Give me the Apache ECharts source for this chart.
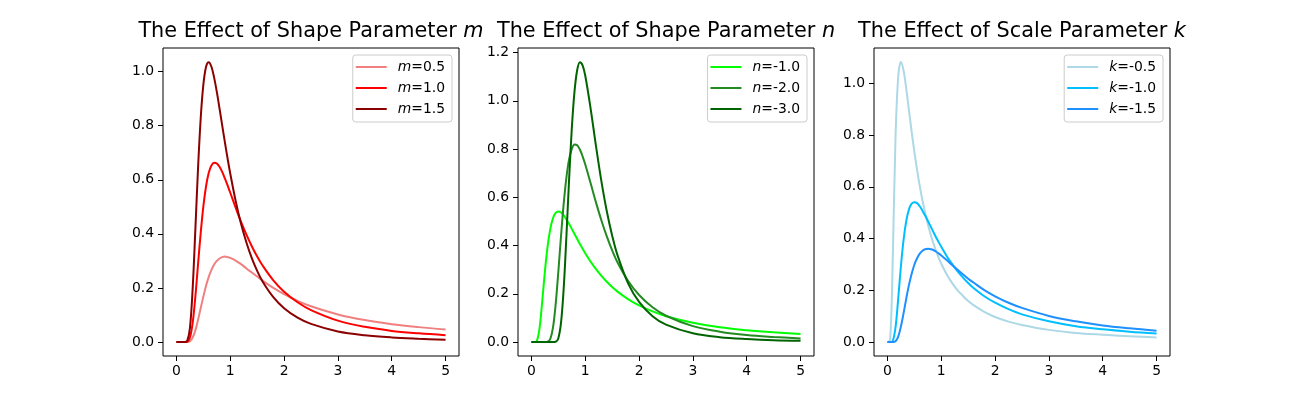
<!DOCTYPE html>
<html>
<head>
<meta charset="utf-8">
<script src="https://cdn.jsdelivr.net/npm/echarts@6/dist/echarts.min.js"></script>
<style>
  html, body { margin: 0; padding: 0; background: #fff; }
  #chart { width: 1300px; height: 400px; }
</style>
</head>
<body>
<div id="chart"></div>
<script>
var xs = [0, 0.05, 0.1, 0.15, 0.2, 0.25, 0.3, 0.35, 0.4, 0.45, 0.5, 0.55, 0.6, 0.65, 0.7, 0.75, 0.8, 0.85, 0.9, 0.95,
          1.0, 1.1, 1.2, 1.3, 1.4, 1.5, 1.6, 1.8, 2.0, 2.25, 2.5, 3.0, 3.5, 4.0, 4.5, 5.0];

// panel 1: shape m
var m05 = [0, 0, 0, 0, 0.000, 0.003, 0.016, 0.042, 0.081, 0.125, 0.168, 0.208, 0.241, 0.267, 0.287, 0.300, 0.309, 0.314, 0.316, 0.314,
           0.311, 0.301, 0.288, 0.272, 0.257, 0.242, 0.227, 0.200, 0.177, 0.152, 0.132, 0.102, 0.081, 0.066, 0.055, 0.046];
var m10 = [0, 0, 0, 0, 0.001, 0.016, 0.069, 0.165, 0.285, 0.402, 0.502, 0.576, 0.626, 0.653, 0.663, 0.660, 0.648, 0.629, 0.605, 0.579,
           0.552, 0.497, 0.444, 0.397, 0.354, 0.316, 0.283, 0.228, 0.186, 0.147, 0.118, 0.079, 0.056, 0.041, 0.032, 0.025];
var m15 = [0, 0, 0, 0, 0.004, 0.051, 0.193, 0.410, 0.638, 0.826, 0.952, 1.018, 1.035, 1.018, 0.978, 0.925, 0.864, 0.801, 0.739, 0.679,
           0.623, 0.522, 0.437, 0.368, 0.310, 0.263, 0.224, 0.166, 0.125, 0.090, 0.067, 0.039, 0.025, 0.017, 0.012, 0.008];

// panel 2: shape n
var n1 = [0, 0, 0.005, 0.057, 0.168, 0.293, 0.396, 0.469, 0.513, 0.535, 0.541, 0.537, 0.525, 0.508, 0.489, 0.469, 0.448, 0.427, 0.406, 0.387,
          0.368, 0.333, 0.302, 0.274, 0.250, 0.228, 0.209, 0.177, 0.152, 0.127, 0.107, 0.080, 0.061, 0.049, 0.040, 0.033];
var n2 = [0, 0, 0, 0, 0, 0, 0.001, 0.013, 0.060, 0.157, 0.293, 0.441, 0.576, 0.683, 0.758, 0.801, 0.819, 0.816, 0.798, 0.770,
          0.736, 0.658, 0.578, 0.504, 0.438, 0.380, 0.330, 0.252, 0.195, 0.144, 0.109, 0.066, 0.043, 0.029, 0.021, 0.015];
var n3 = [0, 0, 0, 0, 0, 0, 0, 0, 0, 0.001, 0.016, 0.081, 0.226, 0.441, 0.677, 0.886, 1.039, 1.128, 1.160, 1.147,
          1.104, 0.967, 0.811, 0.666, 0.542, 0.441, 0.359, 0.241, 0.166, 0.107, 0.072, 0.036, 0.020, 0.012, 0.007, 0.005];

// panel 3: scale k
var k05 = [0, 0.009, 0.337, 0.793, 1.026, 1.083, 1.049, 0.978, 0.895, 0.813, 0.736, 0.666, 0.604, 0.548, 0.500, 0.456, 0.418, 0.384, 0.354, 0.327,
           0.303, 0.262, 0.229, 0.201, 0.179, 0.159, 0.143, 0.117, 0.097, 0.079, 0.066, 0.047, 0.035, 0.028, 0.022, 0.018];
var k10 = [0, 0, 0.005, 0.057, 0.168, 0.293, 0.396, 0.469, 0.513, 0.535, 0.541, 0.537, 0.525, 0.508, 0.489, 0.469, 0.448, 0.427, 0.406, 0.387,
           0.368, 0.333, 0.302, 0.274, 0.250, 0.228, 0.209, 0.177, 0.152, 0.127, 0.107, 0.080, 0.061, 0.049, 0.040, 0.033];
var k15 = [0, 0, 0, 0.003, 0.021, 0.060, 0.112, 0.169, 0.221, 0.264, 0.299, 0.324, 0.342, 0.353, 0.359, 0.361, 0.359, 0.356, 0.350, 0.343,
           0.335, 0.317, 0.298, 0.280, 0.262, 0.245, 0.230, 0.201, 0.177, 0.152, 0.132, 0.101, 0.080, 0.064, 0.053, 0.044];

// tick labels
var xTicks = [0, 1, 2, 3, 4, 5];
var yTicksA = [0, 0.2, 0.4, 0.6, 0.8, 1.0];
var yTicksB = [0, 0.2, 0.4, 0.6, 0.8, 1.0, 1.2];

var FONT = 'DejaVu Sans';

var panels = [
  { title: 'The Effect of Shape Parameter {i|m}', left: 163, yMin: -0.0518, yMax: 1.0875, yTicks: yTicksA,
    lines: [['m=0.5', m05, '#f08080'], ['m=1.0', m10, '#ff0000'], ['m=1.5', m15, '#8b0000']] },
  { title: 'The Effect of Shape Parameter {i|n}', left: 518, yMin: -0.058, yMax: 1.219, yTicks: yTicksB,
    lines: [['n=-1.0', n1, '#00ff00'], ['n=-2.0', n2, '#228b22'], ['n=-3.0', n3, '#006400']] },
  { title: 'The Effect of Scale Parameter {i|k}', left: 874, yMin: -0.054, yMax: 1.137, yTicks: yTicksA,
    lines: [['k=-0.5', k05, '#add8e6'], ['k=-1.0', k10, '#00bfff'], ['k=-1.5', k15, '#1e90ff']] }
];

var W = 296, TOP = 48, H = 308;
var option = { animation: false, backgroundColor: '#fff', title: [], grid: [], xAxis: [], yAxis: [], legend: [], series: [] };

panels.forEach(function (p, i) {
  option.grid.push({ left: p.left, top: TOP, width: W, height: H, show: true, borderColor: '#000', borderWidth: 1, backgroundColor: '#fff' });
  option.title.push({
    text: p.title, left: p.left + W / 2, top: 21, textAlign: 'center', padding: 0,
    textStyle: { fontFamily: FONT, fontSize: 20.8, fontWeight: 'normal', color: '#000',
      rich: { i: { fontFamily: FONT, fontSize: 20.8, fontStyle: 'italic', color: '#000' } } }
  });
  option.xAxis.push({
    type: 'value', gridIndex: i, min: -0.25, max: 5.25,
    axisLine: { show: false, onZero: false },
    splitLine: { show: false },
    axisTick: { show: true, inside: false, length: 5, customValues: xTicks, lineStyle: { color: '#000', width: 1 } },
    axisLabel: { customValues: xTicks, margin: 8, color: '#000', fontFamily: FONT, fontSize: 13.9,
      formatter: function (v) { return String(Math.round(v)); } }
  });
  option.yAxis.push({
    type: 'value', gridIndex: i, min: p.yMin, max: p.yMax,
    axisLine: { show: false, onZero: false },
    splitLine: { show: false },
    axisTick: { show: true, inside: false, length: 5, customValues: p.yTicks, lineStyle: { color: '#000', width: 1 } },
    axisLabel: { customValues: p.yTicks, margin: 9, color: '#000', fontFamily: FONT, fontSize: 13.9,
      formatter: function (v) { return v.toFixed(1); } }
  });
  option.legend.push({
    orient: 'vertical', right: 1300 - (p.left + W) + 7, top: 55,
    data: p.lines.map(function (l) { return l[0]; }),
    selectedMode: false, icon: 'rect', itemWidth: 31, itemHeight: 2, itemGap: 7,
    padding: [5, 7, 6, 3],
    backgroundColor: 'rgba(255,255,255,0.8)', borderColor: '#cccccc', borderWidth: 1, borderRadius: 3,
    formatter: function (name) { return '{i|' + name.charAt(0) + '}' + name.slice(1); },
    textStyle: { fontFamily: FONT, fontSize: 13.9, color: '#000', lineHeight: 14, padding: [0, 0, 0, 6],
      rich: { i: { fontFamily: FONT, fontSize: 13.9, fontStyle: 'italic', color: '#000' } } }
  });
  p.lines.forEach(function (l) {
    option.series.push({
      name: l[0], type: 'line', xAxisIndex: i, yAxisIndex: i,
      data: xs.map(function (x, j) { return [x, l[1][j]]; }),
      showSymbol: false, smooth: 0.35, color: l[2],
      lineStyle: { width: 2, color: l[2] }
    });
  });
});

var chart = echarts.init(document.getElementById('chart'));
chart.setOption(option);
</script>
</body>
</html>
